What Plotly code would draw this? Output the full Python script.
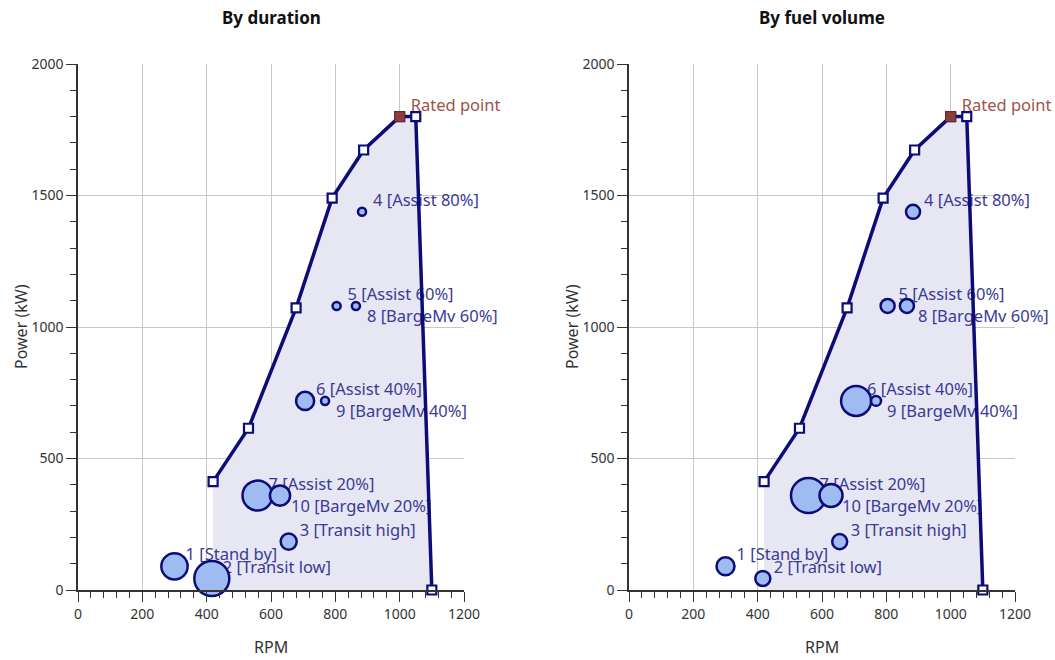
import plotly.graph_objects as go

# ---------------- data ----------------
env_rpm = [420, 530, 678, 790, 888, 1000, 1050, 1100]
env_kw = [412, 615, 1073, 1490, 1673, 1800, 1800, 0]

rated_rpm = [1000]
rated_kw = [1800]
rated_label = ["Rated point"]

pt_ids = [1, 2, 3, 4, 5, 6, 7, 8, 9, 10]
pt_names = ["Stand by", "Transit low", "Transit high", "Assist 80%", "Assist 60%",
            "Assist 40%", "Assist 20%", "BargeMv 60%", "BargeMv 40%", "BargeMv 20%"]
pt_rpm = [300, 416, 655, 883, 804, 706, 558, 864, 768, 628]
pt_kw = [90, 44, 184, 1438, 1080, 719, 359, 1080, 719, 359]
duration_pct = [17, 30, 6.3, 1.6, 1.6, 8, 22, 1.6, 1.6, 10]
fuel_pct = [7.9, 5.5, 5.5, 4.8, 4.8, 21.9, 29.8, 4.8, 2.4, 12.9]

# label side (style): +1 above-right, -1 below-right
label_side = [1, 1, 1, 1, 1, 1, 1, -1, -1, -1]

# ---------------- layout constants ----------------
W, H = 1055, 660
PX_L = (78, 464)
PX_R = (629, 1015)
PX_TOP, PX_BOT = 64, 590
XMAX, YMAX = 1200, 2000

ux = XMAX / (PX_L[1] - PX_L[0])   # data units per px (x)
uy = YMAX / (PX_BOT - PX_TOP)     # data units per px (y)

NAVY = "#0c0c78"
LABEL_C = "#3a3a96"
FONT = "Noto Sans"
LFS = 16.5

fig = go.Figure()

labels = [f"{i} [{n}]" for i, n in zip(pt_ids, pt_names)]
lab_x = [x + 11 * ux for x in pt_rpm]
lab_y = [y + (10 * uy if s > 0 else -12 * uy) for y, s in zip(pt_kw, label_side)]

max_d = 35.0
for k, (sizes, xa, ya) in enumerate([(duration_pct, "x", "y"), (fuel_pct, "x2", "y2")]):
    # fill
    fig.add_trace(go.Scatter(
        x=[env_rpm[0]] + env_rpm, y=[0] + env_kw, xaxis=xa, yaxis=ya,
        mode="lines", fill="toself", fillcolor="#e7e7f3", line=dict(width=0),
        hoverinfo="skip", showlegend=False))
    # labels (under markers)
    fig.add_trace(go.Scatter(
        x=lab_x, y=lab_y, xaxis=xa, yaxis=ya, mode="text", text=labels,
        textposition="middle right", textfont=dict(family=FONT, size=LFS, color=LABEL_C),
        cliponaxis=False, showlegend=False, hoverinfo="skip"))
    fig.add_trace(go.Scatter(
        x=[r + 11 * ux for r in rated_rpm], y=[p + 10 * uy for p in rated_kw],
        xaxis=xa, yaxis=ya, mode="text", text=rated_label,
        textposition="middle right", textfont=dict(family=FONT, size=LFS, color="#a0524a"),
        cliponaxis=False, showlegend=False, hoverinfo="skip"))
    # envelope
    fig.add_trace(go.Scatter(
        x=env_rpm, y=env_kw, xaxis=xa, yaxis=ya, mode="lines+markers",
        line=dict(color=NAVY, width=3.5),
        marker=dict(symbol="square", size=9, color="white", line=dict(color=NAVY, width=2.2)),
        cliponaxis=False, showlegend=False))
    # bubbles
    sref = 2.0 * max(sizes) / (max_d ** 2)
    fig.add_trace(go.Scatter(
        x=pt_rpm, y=pt_kw, xaxis=xa, yaxis=ya, mode="markers",
        marker=dict(size=sizes, sizemode="area", sizeref=sref, sizemin=2, opacity=1,
                    color="#9fbcf2", line=dict(color=NAVY, width=2.5)),
        cliponaxis=False, showlegend=False))
    # rated point
    fig.add_trace(go.Scatter(
        x=rated_rpm, y=rated_kw, xaxis=xa, yaxis=ya, mode="markers",
        marker=dict(symbol="square", size=10, color="#8e3b3b", line=dict(color="#6a2a2a", width=1)),
        cliponaxis=False, showlegend=False))

def xax(px, anchor):
    return dict(domain=[px[0] / W, px[1] / W], range=[0, XMAX], anchor=anchor, automargin=False,
                dtick=200, tick0=0, ticks="outside", ticklen=10, tickwidth=1.2,
                tickcolor="#333", showline=True, linecolor="#333", linewidth=1.5,
                showgrid=True, gridcolor="#c8c8c8", gridwidth=1, zeroline=False,
                tickfont=dict(family=FONT, size=14, color="#333"),
                minor=dict(dtick=40, ticks="outside", ticklen=6, tickcolor="#333", showgrid=False),
                fixedrange=True)

def yax(anchor):
    return dict(domain=[1 - PX_BOT / H, 1 - PX_TOP / H], range=[0, YMAX], anchor=anchor,
                automargin=False,
                dtick=500, tick0=0, ticks="outside", ticklen=10, tickwidth=1.2,
                tickcolor="#333", showline=True, linecolor="#333", linewidth=1.5,
                showgrid=True, gridcolor="#c8c8c8", gridwidth=1, zeroline=False,
                tickfont=dict(family=FONT, size=14, color="#333"),
                minor=dict(dtick=100, ticks="outside", ticklen=6, tickcolor="#333", showgrid=False),
                fixedrange=True)

annotations = []
for px, title in [(PX_L, "By duration"), (PX_R, "By fuel volume")]:
    cx = (px[0] + px[1]) / 2 / W
    annotations.append(dict(text=f"<b>{title}</b>", x=cx, y=1 - 18 / H, xref="paper", yref="paper",
                            showarrow=False, font=dict(family=FONT, size=17, color="#111"),
                            xanchor="center", yanchor="middle"))
    annotations.append(dict(text="RPM", x=cx, y=1 - 647 / H, xref="paper", yref="paper",
                            showarrow=False, font=dict(family=FONT, size=16, color="#333"),
                            xanchor="center", yanchor="middle"))
    annotations.append(dict(text="Power (kW)", x=(px[0] - 57) / W, y=1 - 327 / H, xref="paper",
                            yref="paper", showarrow=False, textangle=-90,
                            font=dict(family=FONT, size=16, color="#333"),
                            xanchor="center", yanchor="middle"))

fig.update_layout(
    width=W, height=H, margin=dict(l=0, r=0, t=0, b=0),
    paper_bgcolor="white", plot_bgcolor="white",
    xaxis=xax(PX_L, "y"), yaxis=yax("x"),
    xaxis2=xax(PX_R, "y2"), yaxis2=yax("x2"),
    annotations=annotations, showlegend=False,
)

fig.write_html("out.html", config={"displayModeBar": False},
               post_script="document.body.style.margin='0';document.body.style.overflow='hidden';")
